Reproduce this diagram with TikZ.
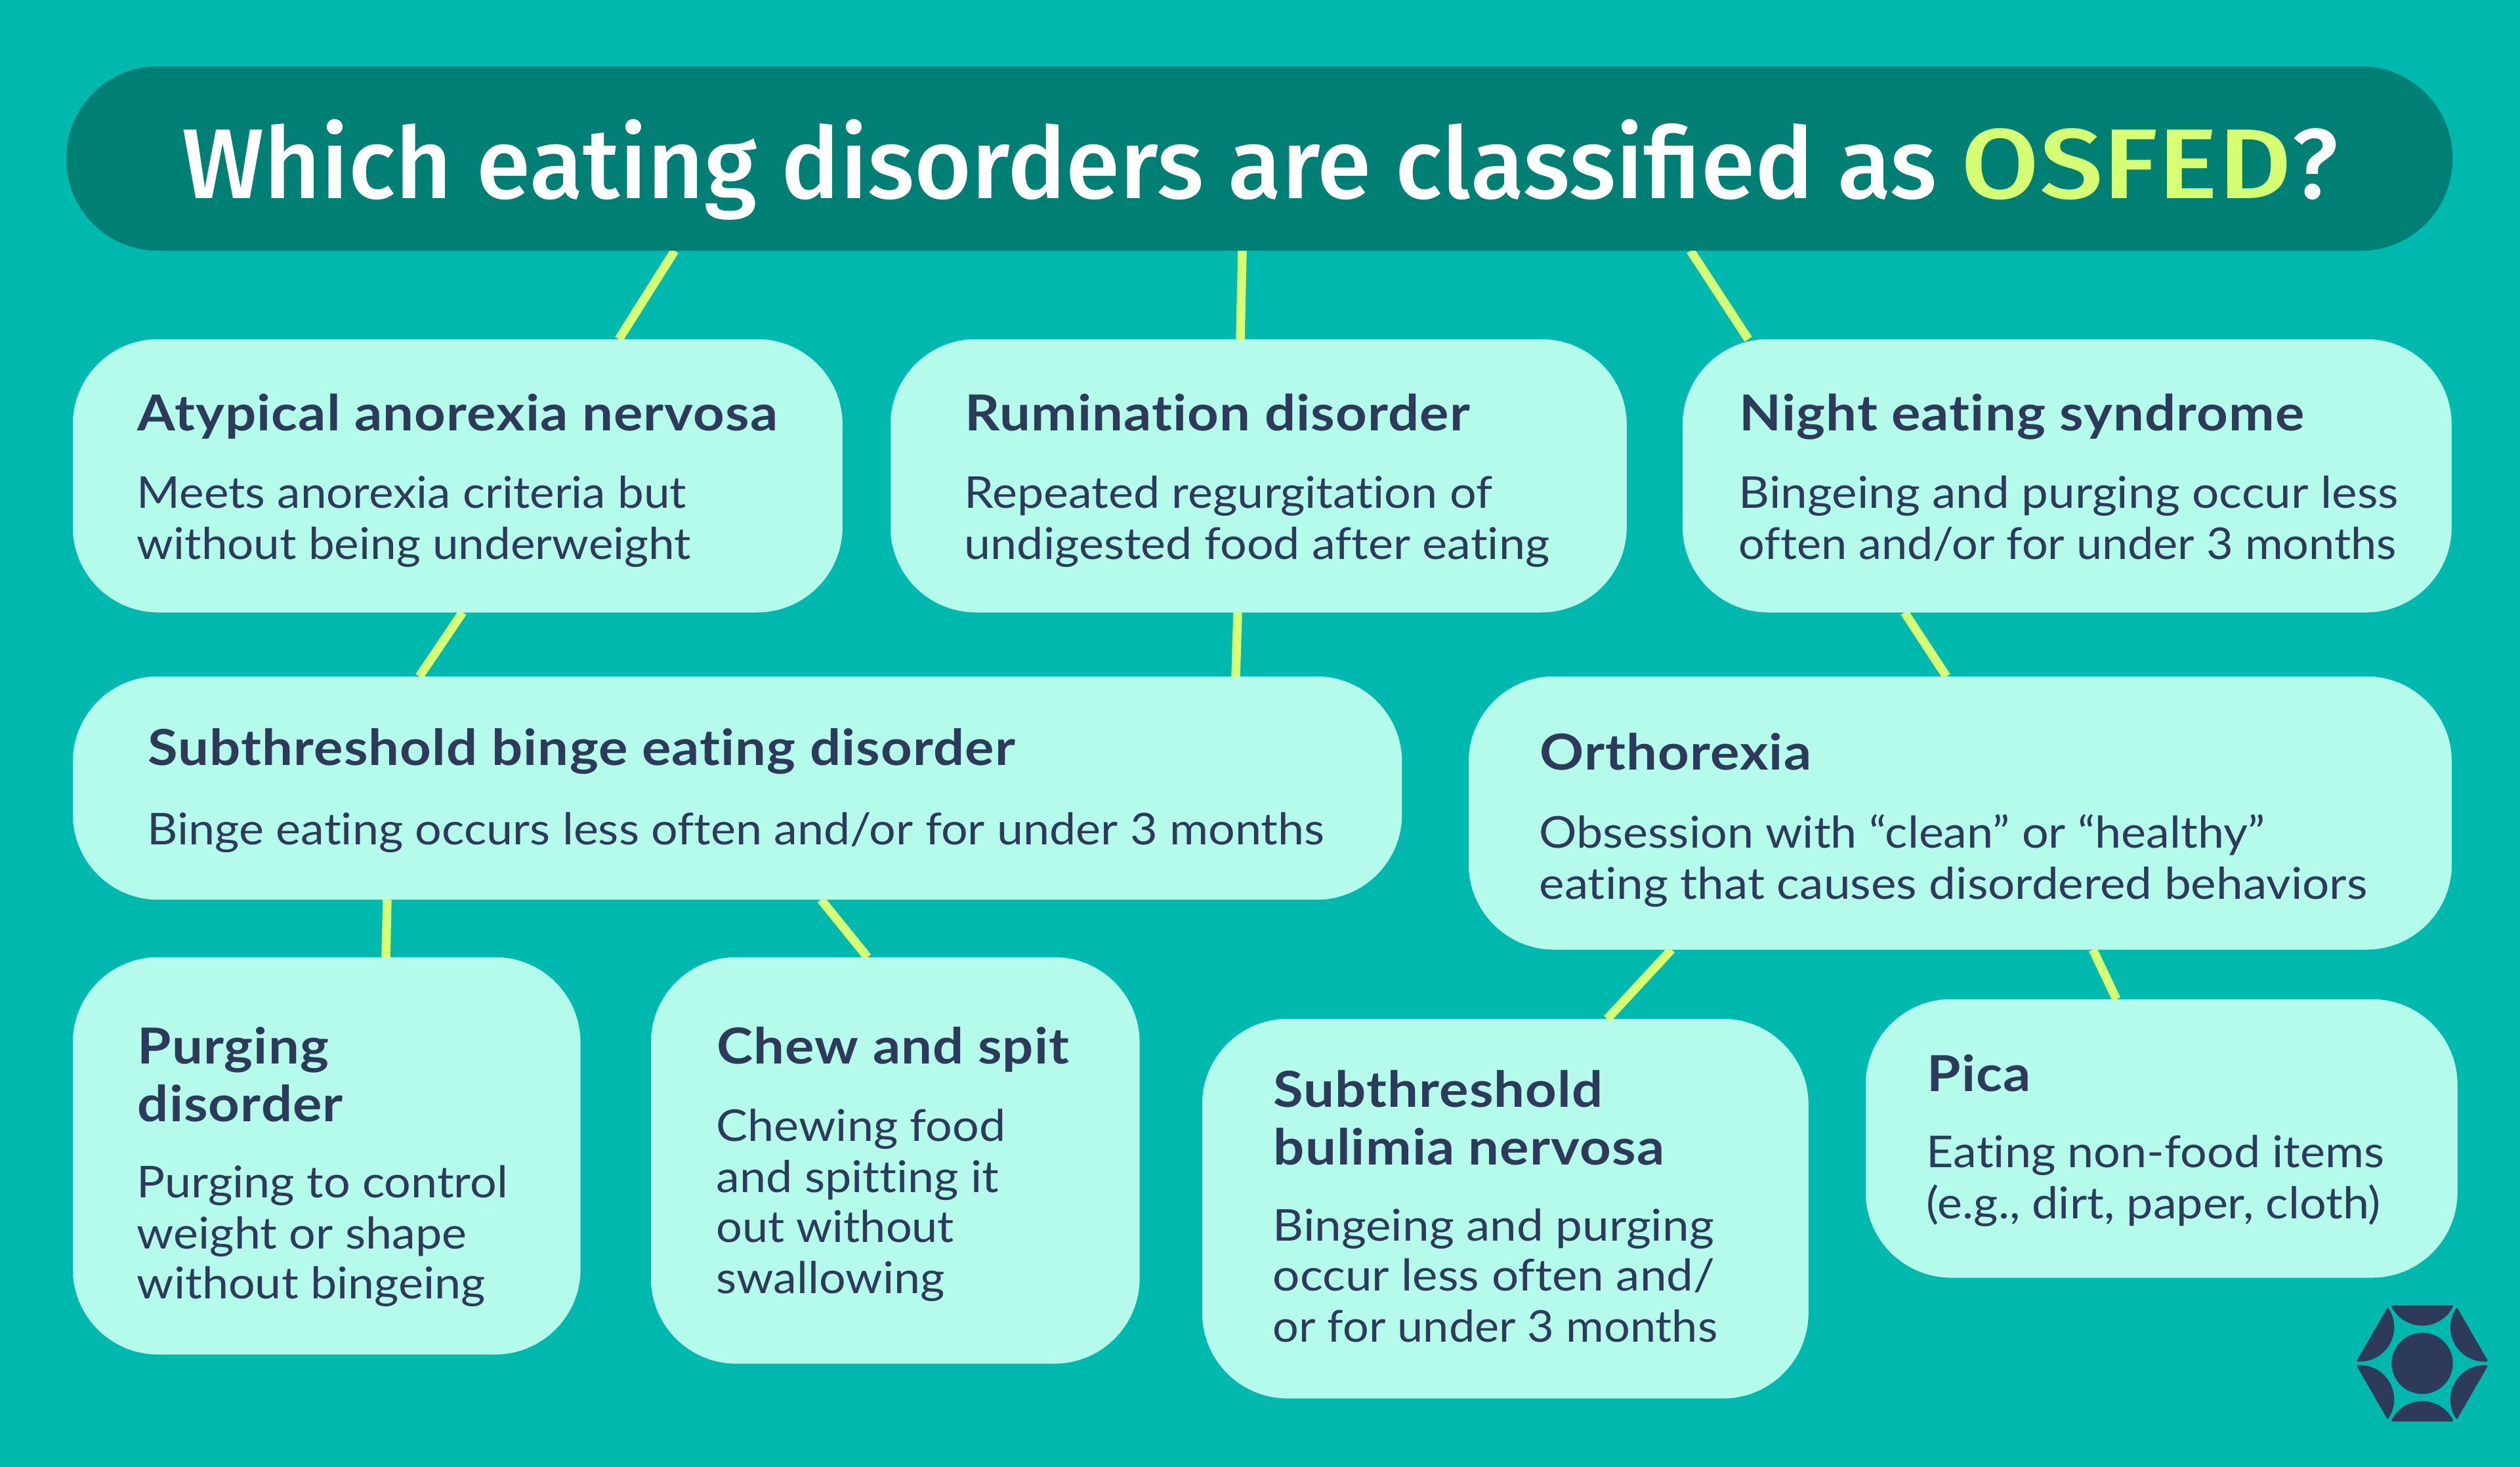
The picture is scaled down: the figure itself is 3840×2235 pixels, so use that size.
\documentclass[tikz,border=0pt]{standalone}
\usepackage{fontspec}
\setmainfont{Lato}[Ligatures=NoCommon,FakeStretch=1.075]
\newfontfamily\bodyn{Lato}[Ligatures=NoCommon,FakeStretch=1.05]
\newfontfamily\bodym{Lato}[Ligatures=NoCommon,FakeStretch=1.063]
\newfontfamily\bodyw{Lato}[Ligatures=NoCommon,FakeStretch=1.09]
\newfontfamily\titlefont{Fira Sans Medium}[FakeStretch=0.987]
\newfontfamily\titlecaps{Fira Sans Medium}[FakeStretch=1.14]
\newfontfamily\headfont{Lato}[Ligatures=NoCommon,UprightFont=* Bold,FakeStretch=1.10,LetterSpace=1.5]
\usetikzlibrary{calc}
\definecolor{bgc}{HTML}{00B9AE}
\definecolor{titlec}{HTML}{008075}
\definecolor{boxc}{HTML}{B5FBEB}
\definecolor{limec}{HTML}{D6FF73}
\definecolor{navyc}{HTML}{2D3A5A}
\tikzset{
  x=0.01cm,y=-0.01cm,
  cardbox/.style={fill=boxc,rounded corners=1.3cm,anchor=north west,inner sep=0pt,outer sep=0pt},
  titlebox/.style={fill=titlec,rounded corners=1.40cm,anchor=north west,inner sep=0pt,outer sep=0pt},
  link/.style={draw=limec,line width=0.135cm},
  head/.style={anchor=base west,inner sep=0pt,text=navyc,font=\headfont\fontsize{21.5pt}{26pt}\selectfont},
  body/.style={anchor=base west,inner sep=0pt,text=navyc,font=\fontsize{19pt}{22pt}\selectfont},
  bodynarrow/.style={body,font=\bodyn\fontsize{19pt}{22pt}\selectfont},
  bodymid/.style={body,font=\bodym\fontsize{19pt}{22pt}\selectfont},
  bodywide/.style={body,font=\bodyw\fontsize{19pt}{22pt}\selectfont},
}
\begin{document}
\begin{tikzpicture}
\useasboundingbox (0,0) rectangle (3840,2235);
\fill[bgc] (-10,-10) rectangle (3850,2245);
\path
  (101,101) node[titlebox,minimum width=36.34cm,minimum height=2.81cm] (title) {}
  (111,517) node[cardbox,minimum width=11.72cm,minimum height=4.16cm] (a) {}
  (1357,517) node[cardbox,minimum width=11.21cm,minimum height=4.16cm] (b) {}
  (2564,517) node[cardbox,minimum width=11.71cm,minimum height=4.16cm] (c) {}
  (111,1031) node[cardbox,minimum width=20.24cm,minimum height=3.40cm] (d) {}
  (2238,1031) node[cardbox,minimum width=14.97cm,minimum height=4.16cm] (e) {}
  (111,1459) node[cardbox,minimum width=7.73cm,minimum height=6.05cm] (f) {}
  (992,1459) node[cardbox,minimum width=7.44cm,minimum height=6.19cm] (g) {}
  (1832,1553) node[cardbox,minimum width=9.23cm,minimum height=5.78cm] (h) {}
  (2843,1523) node[cardbox,minimum width=9.01cm,minimum height=4.24cm] (i) {};
\draw[link] ($(title.south west)+(927,0)$) -- ($(a.north west)+(832,0)$);
\draw[link] ($(title.south west)+(1792,0)$) -- ($(b.north west)+(533,0)$);
\draw[link] ($(title.south west)+(2475,0)$) -- ($(c.north west)+(100,0)$);
\draw[link] ($(a.south west)+(594,0)$) -- ($(d.north west)+(528,0)$);
\draw[link] ($(b.south west)+(529,0)$) -- ($(d.north west)+(1772,0)$);
\draw[link] ($(c.south west)+(338,0)$) -- ($(e.north west)+(728,0)$);
\draw[link] ($(d.south west)+(479,0)$) -- ($(f.north west)+(477,0)$);
\draw[link] ($(d.south west)+(1140,0)$) -- ($(g.north west)+(330,0)$);
\draw[link] ($(e.south west)+(309,0)$) -- ($(h.north west)+(617,0)$);
\draw[link] ($(e.south west)+(951,0)$) -- ($(i.north west)+(382,0)$);
\path
  (101,101) node[titlebox,minimum width=36.34cm,minimum height=2.81cm] {}
  (111,517) node[cardbox,minimum width=11.72cm,minimum height=4.16cm] {}
  (1357,517) node[cardbox,minimum width=11.21cm,minimum height=4.16cm] {}
  (2564,517) node[cardbox,minimum width=11.71cm,minimum height=4.16cm] {}
  (111,1031) node[cardbox,minimum width=20.24cm,minimum height=3.40cm] {}
  (2238,1031) node[cardbox,minimum width=14.97cm,minimum height=4.16cm] {}
  (111,1459) node[cardbox,minimum width=7.73cm,minimum height=6.05cm] {}
  (992,1459) node[cardbox,minimum width=7.44cm,minimum height=6.19cm] {}
  (1832,1553) node[cardbox,minimum width=9.23cm,minimum height=5.78cm] {}
  (2843,1523) node[cardbox,minimum width=9.01cm,minimum height=4.24cm] {};
\node[anchor=base west,inner sep=0pt,text=white,font=\titlefont\fontsize{43pt}{50pt}\selectfont] (titletext) at (277,302) {Which eating disorders are classified as \textcolor{limec}{\titlecaps OSFED}?};
\node[head] (a1) at (209,656) {Atypical anorexia nervosa};
\node[bodymid] (a2) at (208,774) {Meets anorexia criteria but};
\node[bodymid] (a3) at (208,852) {without being underweight};
\node[head] (b1) at (1470,656) {Rumination disorder};
\node[body] (b2) at (1469,774) {Repeated regurgitation of};
\node[body] (b3) at (1469,852) {undigested food after eating};
\node[head] (c1) at (2650,656) {Night eating syndrome};
\node[bodywide] (c2) at (2649,774) {Bingeing and purging occur less};
\node[bodynarrow] (c3) at (2649,852) {often and/or for under 3 months};
\node[head] (d1) at (225,1166) {Subthreshold binge eating disorder};
\node[body] (d2) at (224,1287) {Binge eating occurs less often and/or for under 3 months};
\node[head] (e1) at (2346,1173) {Orthorexia};
\node[body] (e2) at (2345,1292) {Obsession with “clean” or “healthy”};
\node[bodywide] (e3) at (2345,1370) {eating that causes disordered behaviors};
\node[head] (f1) at (209,1621) {Purging};
\node[head] (f2) at (209,1709) {disorder};
\node[body] (f3) at (208,1825) {Purging to control};
\node[body] (f4) at (208,1903) {weight or shape};
\node[body] (f5) at (208,1979) {without bingeing};
\node[head] (g1) at (1092,1621) {Chew and spit};
\node[body] (g2) at (1091,1739) {Chewing food};
\node[body] (g3) at (1091,1817) {and spitting it};
\node[bodynarrow] (g4) at (1091,1893) {out without};
\node[body] (g5) at (1091,1971) {swallowing};
\node[head] (h1) at (1940,1687) {Subthreshold};
\node[head] (h2) at (1940,1775) {bulimia nervosa};
\node[bodywide] (h3) at (1939,1891) {Bingeing and purging};
\node[bodywide] (h4) at (1939,1967) {occur less often and/};
\node[bodynarrow] (h5) at (1939,2045) {or for under 3 months};
\node[head] (i1) at (2936,1663) {Pica};
\node[body] (i2) at (2935,1779) {Eating non-food items};
\node[body] (i3) at (2935,1857) {(e.g., dirt, paper, cloth)};
\begin{scope}[shift={(3691,2078)},x=0.01cm,y=0.01cm]
\fill[navyc] (0,0) circle[radius=46.7];
\foreach \r in {0,60,...,300}{
  \fill[navyc,draw=navyc,line width=0.03cm,line join=round,rotate=\r]
   (-45.5,87) arc[start angle=206.8,end angle=333.2,radius=51] -- cycle;
}
\end{scope}
\end{tikzpicture}
\end{document}
